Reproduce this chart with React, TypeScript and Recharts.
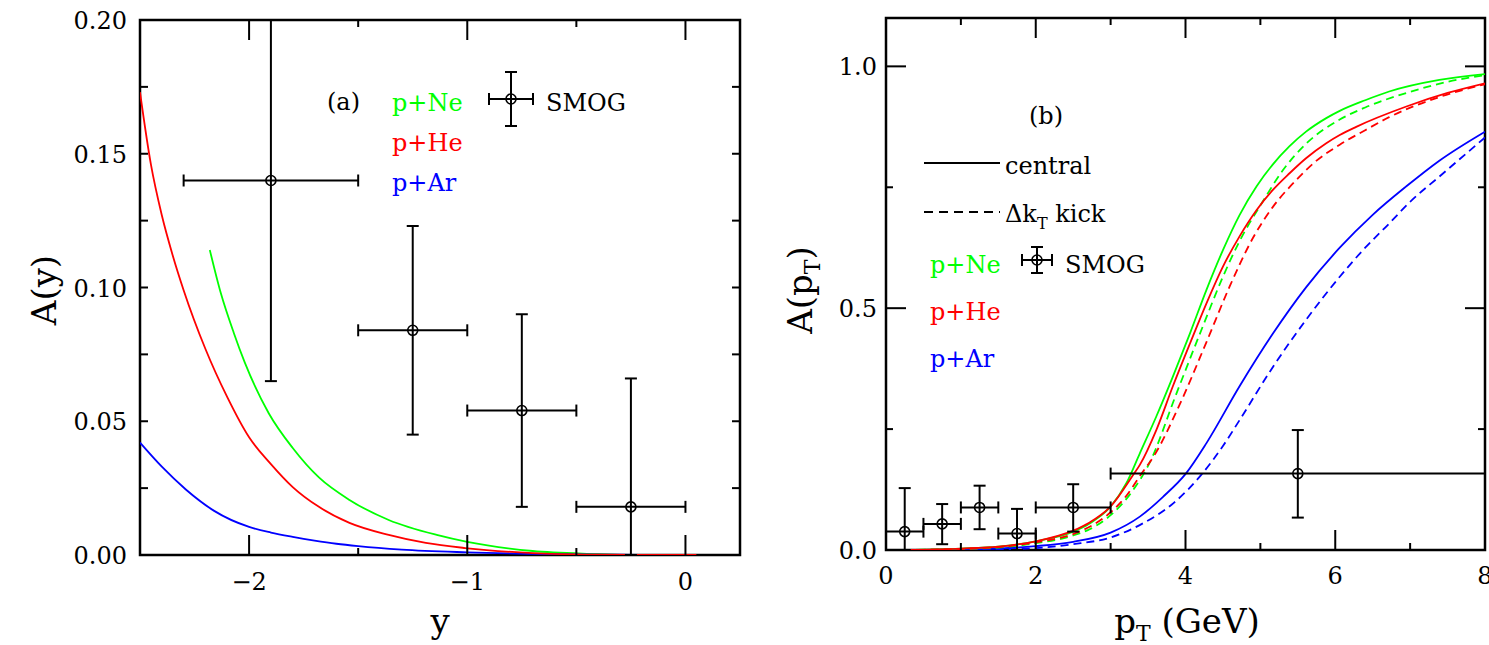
import React from 'react';
import { ComposedChart, Line, Scatter, ErrorBar, XAxis, YAxis, ReferenceArea } from 'recharts';

const FONT = '"DejaVu Serif", "Liberation Serif", serif';
const GREEN = '#00ff00';
const RED = '#ff0000';
const BLUE = '#0000ff';

// ---- panel (a): A(y) vs rapidity y ----
const heY = [-2.5, -2.45, -2.4, -2.35, -2.3, -2.2, -2.1, -2.0, -1.9, -1.8, -1.68, -1.54, -1.36, -1.19, -1.01, -0.7, -0.4, -0.25, 0.05];
const heA = [0.173, 0.146, 0.127, 0.112, 0.099, 0.077, 0.059, 0.044, 0.034, 0.0254, 0.018, 0.012, 0.0075, 0.0045, 0.0026, 0.0007, 0.0001, 0, 0];
const neY = [-2.18, -2.13, -2.07, -2.02, -1.91, -1.8, -1.68, -1.54, -1.36, -1.14, -1.0, -0.7, -0.4, -0.3];
const neA = [0.114, 0.098, 0.083, 0.072, 0.053, 0.04, 0.029, 0.0206, 0.0131, 0.0075, 0.0049, 0.0015, 0.0003, 0];
const arY = [-2.5, -2.4, -2.29, -2.16, -2.0, -1.9, -1.8, -1.7, -1.6, -1.5, -1.3, -1.0, -0.5, -0.2];
const arA = [0.042, 0.033, 0.0245, 0.0165, 0.0105, 0.0084, 0.0068, 0.0054, 0.0042, 0.0033, 0.002, 0.001, 0.0002, 0];

const smogY = [-1.9, -1.25, -0.75, -0.25];
const smogYLo = [-2.3, -1.5, -1.0, -0.5];
const smogYHi = [-1.5, -1.0, -0.5, 0.0];
const smogAy = [0.14, 0.084, 0.054, 0.018];
const smogAyLo = [0.065, 0.045, 0.018, 0.0];
const smogAyHi = [0.2, 0.123, 0.09, 0.066];

const xTicksA = [-2, -1.5, -1, -0.5, 0];
const xLabelsA = [-2, -1, 0];
const yTicksA = [0, 0.025, 0.05, 0.075, 0.1, 0.125, 0.15, 0.175, 0.2];
const yLabelsA = [0, 0.05, 0.1, 0.15, 0.2];

// ---- panel (b): A(pT) vs pT ----
const neCPt = [0.25, 1.0, 1.5, 2.0, 2.5, 2.72, 3.0, 3.21, 3.39, 3.61, 3.83, 4.06, 4.28, 4.5, 4.72, 4.95, 5.17, 5.39, 5.61, 5.88, 6.06, 6.4, 6.72, 7.39, 8.0];
const neCA = [0.0, 0.003, 0.007, 0.018, 0.038, 0.055, 0.09, 0.138, 0.2, 0.276, 0.358, 0.448, 0.538, 0.62, 0.692, 0.752, 0.798, 0.835, 0.865, 0.893, 0.908, 0.93, 0.948, 0.972, 0.984];
const neKPt = [0.25, 1.0, 1.5, 2.0, 2.5, 2.72, 3.0, 3.3, 3.52, 3.88, 4.23, 4.5, 4.72, 5.03, 5.3, 5.61, 6.06, 6.4, 6.95, 7.5, 8.0];
const neKA = [0.0, 0.002, 0.005, 0.014, 0.03, 0.043, 0.072, 0.124, 0.18, 0.324, 0.462, 0.565, 0.638, 0.72, 0.785, 0.84, 0.89, 0.915, 0.945, 0.968, 0.982];
const heCPt = [0.25, 1.0, 1.5, 2.0, 2.5, 2.72, 3.0, 3.3, 3.39, 3.61, 3.83, 4.06, 4.28, 4.5, 4.72, 4.95, 5.17, 5.39, 5.61, 5.88, 6.06, 6.28, 6.95, 7.5, 8.0];
const heCA = [0.0, 0.003, 0.007, 0.018, 0.04, 0.057, 0.09, 0.155, 0.176, 0.248, 0.338, 0.427, 0.51, 0.586, 0.648, 0.703, 0.745, 0.779, 0.81, 0.841, 0.858, 0.875, 0.917, 0.945, 0.965];
const heKPt = [0.25, 1.0, 1.5, 2.0, 2.5, 2.72, 3.0, 3.2, 3.4, 3.6, 3.92, 4.28, 4.59, 4.9, 5.17, 5.48, 5.75, 6.06, 6.4, 6.72, 7.4, 8.0];
const heKA = [0.0, 0.002, 0.006, 0.016, 0.033, 0.048, 0.078, 0.11, 0.155, 0.2, 0.3, 0.43, 0.545, 0.645, 0.71, 0.765, 0.805, 0.838, 0.868, 0.895, 0.937, 0.963];
const arCPt = [0.25, 1.0, 1.5, 2.0, 2.5, 3.0, 3.39, 3.7, 4.01, 4.28, 4.72, 5.17, 5.61, 6.06, 6.5, 6.95, 7.39, 8.0];
const arCA = [0.0, 0.001, 0.003, 0.008, 0.017, 0.036, 0.069, 0.11, 0.159, 0.221, 0.338, 0.448, 0.543, 0.625, 0.693, 0.752, 0.805, 0.865];
const arKPt = [0.25, 1.0, 1.5, 2.0, 2.5, 3.0, 3.43, 3.84, 4.23, 4.5, 4.72, 5.17, 5.61, 6.06, 6.4, 6.72, 7.0, 7.39, 8.0];
const arKA = [0.0, 0.0005, 0.0015, 0.004, 0.012, 0.026, 0.055, 0.097, 0.159, 0.215, 0.268, 0.379, 0.476, 0.565, 0.625, 0.675, 0.72, 0.772, 0.853];

const smogPt = [0.25, 0.75, 1.25, 1.75, 2.5, 5.5];
const smogPtLo = [0, 0.5, 1.0, 1.5, 2.0, 3.0];
const smogPtHi = [0.5, 1.0, 1.5, 2.0, 3.0, 8.0];
const smogApt = [0.038, 0.054, 0.088, 0.034, 0.088, 0.158];
const smogAptLo = [0.0, 0.012, 0.043, 0.0, 0.038, 0.067];
const smogAptHi = [0.128, 0.095, 0.133, 0.085, 0.136, 0.248];

const xTicksB = [0, 1, 2, 3, 4, 5, 6, 7, 8];
const xLabelsB = [0, 2, 4, 6, 8];
const yTicksB = [0, 0.25, 0.5, 0.75, 1.0];
const yLabelsB = [0, 0.5, 1.0];

const toRows = (xs: number[], ys: number[]) => xs.map((x, i) => ({ x, a: ys[i] }));
const toPoints = (xs: number[], xlo: number[], xhi: number[], ys: number[], ylo: number[], yhi: number[]) =>
  xs.map((x, i) => ({
    x,
    a: ys[i],
    ex: [x - xlo[i], xhi[i] - x],
    ey: [ys[i] - ylo[i], yhi[i] - ys[i]],
  }));

const isIn = (list: number[], v: number) => list.some((l) => Math.abs(l - v) < 1e-9);
const fmtMinus = (v: number) => (v < 0 ? '\u2212' + Math.abs(v) : String(v));

// ticks point inward and are mirrored on the opposite side of the frame
function xTick(labels: number[], fmt: (v: number) => string, major: number, minor: number, span: number, dy: number) {
  return (props: any) => {
    const { x, y, payload } = props;
    const lab = isIn(labels, payload.value);
    const len = lab ? major : minor;
    return (
      <g>
        <line x1={x} y1={y} x2={x} y2={y - len} stroke="#000" strokeWidth={2} />
        <line x1={x} y1={y - span} x2={x} y2={y - span + len} stroke="#000" strokeWidth={2} />
        {lab && (
          <text x={x} y={y + dy} textAnchor="middle" fontFamily={FONT} fontSize={24} fill="#000">
            {fmt(payload.value)}
          </text>
        )}
      </g>
    );
  };
}

function yTick(labels: number[], fmt: (v: number) => string, major: number, minor: number, span: number, gap: number) {
  return (props: any) => {
    const { x, y, payload } = props;
    const lab = isIn(labels, payload.value);
    const len = lab ? major : minor;
    return (
      <g>
        <line x1={x} y1={y} x2={x + len} y2={y} stroke="#000" strokeWidth={2} />
        <line x1={x + span} y1={y} x2={x + span - len} y2={y} stroke="#000" strokeWidth={2} />
        {lab && (
          <text x={x - gap} y={y + 9} textAnchor="end" fontFamily={FONT} fontSize={24} fill="#000">
            {fmt(payload.value)}
          </text>
        )}
      </g>
    );
  };
}

const ring = (props: any) => (
  <circle cx={props.cx} cy={props.cy} r={5} fill="none" stroke="#000" strokeWidth={1.6} />
);

function PanelA() {
  return (
    <ComposedChart width={760} height={645} margin={{ top: 20, right: 20, bottom: 89, left: 139 }}>
      <XAxis
        type="number"
        dataKey="x"
        domain={[-2.5, 0.25]}
        ticks={xTicksA}
        interval={0}
        allowDataOverflow
        height={1}
        axisLine={false}
        tickLine={false}
        tickSize={0}
        tickMargin={0}
        tick={xTick(xLabelsA, fmtMinus, 20, 7, 535, 35)}
      />
      <YAxis
        type="number"
        dataKey="a"
        domain={[0, 0.2]}
        ticks={yTicksA}
        interval={0}
        allowDataOverflow
        width={1}
        axisLine={false}
        tickLine={false}
        tickSize={0}
        tickMargin={0}
        tick={yTick(yLabelsA, (v) => v.toFixed(2), 8, 8, 600, 13)}
      />
      <ReferenceArea x1={-2.5} x2={0.25} y1={0} y2={0.2} fill="none" stroke="#000" strokeWidth={2.5} />
      <Line data={toRows(neY, neA)} dataKey="a" type="monotone" stroke={GREEN} strokeWidth={1.8} dot={false} isAnimationActive={false} />
      <Line data={toRows(arY, arA)} dataKey="a" type="monotone" stroke={BLUE} strokeWidth={1.8} dot={false} isAnimationActive={false} />
      <Line data={toRows(heY, heA)} dataKey="a" type="monotone" stroke={RED} strokeWidth={1.8} dot={false} isAnimationActive={false} />
      <Scatter
        data={toPoints(smogY, smogYLo, smogYHi, smogAy, smogAyLo, smogAyHi)}
        shape={ring}
        isAnimationActive={false}
      >
        <ErrorBar dataKey="ex" direction="x" width={6} stroke="#000" strokeWidth={2} isAnimationActive={false} />
        <ErrorBar dataKey="ey" direction="y" width={6} stroke="#000" strokeWidth={2} isAnimationActive={false} />
      </Scatter>
    </ComposedChart>
  );
}

function PanelB() {
  return (
    <ComposedChart width={709} height={645} margin={{ top: 18, right: 4, bottom: 94, left: 105 }}>
      <XAxis
        type="number"
        dataKey="x"
        domain={[0, 8]}
        ticks={xTicksB}
        interval={0}
        allowDataOverflow
        height={1}
        axisLine={false}
        tickLine={false}
        tickSize={0}
        tickMargin={0}
        tick={xTick(xLabelsB, (v) => String(v), 20, 7, 532, 34)}
      />
      <YAxis
        type="number"
        dataKey="a"
        domain={[0, 1.1]}
        ticks={yTicksB}
        interval={0}
        allowDataOverflow
        width={1}
        axisLine={false}
        tickLine={false}
        tickSize={0}
        tickMargin={0}
        tick={yTick(yLabelsB, (v) => v.toFixed(1), 20, 7, 599, 9)}
      />
      <ReferenceArea x1={0} x2={8} y1={0} y2={1.1} fill="none" stroke="#000" strokeWidth={2.5} />
      <Line data={toRows(arKPt, arKA)} dataKey="a" type="monotone" stroke={BLUE} strokeWidth={1.8} strokeDasharray="8 5" dot={false} isAnimationActive={false} />
      <Line data={toRows(arCPt, arCA)} dataKey="a" type="monotone" stroke={BLUE} strokeWidth={1.8} dot={false} isAnimationActive={false} />
      <Line data={toRows(neKPt, neKA)} dataKey="a" type="monotone" stroke={GREEN} strokeWidth={1.8} strokeDasharray="8 5" dot={false} isAnimationActive={false} />
      <Line data={toRows(neCPt, neCA)} dataKey="a" type="monotone" stroke={GREEN} strokeWidth={1.8} dot={false} isAnimationActive={false} />
      <Line data={toRows(heKPt, heKA)} dataKey="a" type="monotone" stroke={RED} strokeWidth={1.8} strokeDasharray="8 5" dot={false} isAnimationActive={false} />
      <Line data={toRows(heCPt, heCA)} dataKey="a" type="monotone" stroke={RED} strokeWidth={1.8} dot={false} isAnimationActive={false} />
      <Scatter
        data={toPoints(smogPt, smogPtLo, smogPtHi, smogApt, smogAptLo, smogAptHi)}
        shape={ring}
        isAnimationActive={false}
      >
        <ErrorBar dataKey="ex" direction="x" width={6} stroke="#000" strokeWidth={2} isAnimationActive={false} />
        <ErrorBar dataKey="ey" direction="y" width={6} stroke="#000" strokeWidth={2} isAnimationActive={false} />
      </Scatter>
    </ComposedChart>
  );
}

// the SMOG marker used in the in-plot legends
function SmogKey({ cx, cy, hw, hh }: { cx: number; cy: number; hw: number; hh: number }) {
  return (
    <g stroke="#000" strokeWidth={2} fill="none">
      <line x1={cx - hw} y1={cy} x2={cx + hw} y2={cy} />
      <line x1={cx} y1={cy - hh} x2={cx} y2={cy + hh} />
      <line x1={cx - hw} y1={cy - 6} x2={cx - hw} y2={cy + 6} />
      <line x1={cx + hw} y1={cy - 6} x2={cx + hw} y2={cy + 6} />
      <line x1={cx - 6} y1={cy - hh} x2={cx + 6} y2={cy - hh} />
      <line x1={cx - 6} y1={cy + hh} x2={cx + 6} y2={cy + hh} />
      <circle cx={cx} cy={cy} r={5} strokeWidth={1.6} />
    </g>
  );
}

export default function App() {
  const t = { fontFamily: FONT, fontSize: 24 };
  return (
    <div style={{ position: 'absolute', left: 0, top: 0, width: 1489, height: 645, background: '#fff', overflow: 'hidden' }}>
      <div style={{ position: 'absolute', left: 0, top: 0 }}>
        <PanelA />
      </div>
      <div style={{ position: 'absolute', left: 780, top: 0 }}>
        <PanelB />
      </div>
      <svg width={1489} height={645} style={{ position: 'absolute', left: 0, top: 0, pointerEvents: 'none' }}>
        {/* axis titles */}
        <text x={56} y={290} transform="rotate(-90 56 290)" textAnchor="middle" fontFamily={FONT} fontSize={34}>A(y)</text>
        <text x={440} y={633} textAnchor="middle" fontFamily={FONT} fontSize={34}>y</text>
        <text x={812} y={290} transform="rotate(-90 812 290)" textAnchor="middle" fontFamily={FONT} fontSize={34}>
          A(p<tspan fontSize={22} dy={8}>T</tspan><tspan dy={-8}>)</tspan>
        </text>
        <text x={1187} y={633} textAnchor="middle" fontFamily={FONT} fontSize={34}>
          p<tspan fontSize={22} dy={8}>T</tspan><tspan dy={-8}> (GeV)</tspan>
        </text>

        {/* panel (a) legend */}
        <text x={327} y={110} {...t}>(a)</text>
        <text x={392} y={111} {...t} fill={GREEN}>p+Ne</text>
        <text x={392} y={151} {...t} fill={RED}>p+He</text>
        <text x={392} y={191} {...t} fill={BLUE}>p+Ar</text>
        <SmogKey cx={511} cy={99} hw={22} hh={27} />
        <text x={546} y={111} {...t}>SMOG</text>

        {/* panel (b) legend */}
        <text x={1029} y={124} {...t}>(b)</text>
        <line x1={924} y1={163} x2={1000} y2={163} stroke="#000" strokeWidth={2} />
        <text x={1005} y={174} {...t}>central</text>
        <line x1={924} y1={212} x2={1000} y2={212} stroke="#000" strokeWidth={2} strokeDasharray="9 6" />
        <text x={1005} y={222} {...t}>
          Δk<tspan fontSize={16} dy={7}>T</tspan><tspan dy={-7}> kick</tspan>
        </text>
        <text x={930} y={273} {...t} fill={GREEN}>p+Ne</text>
        <SmogKey cx={1037} cy={260} hw={15} hh={13} />
        <text x={1065} y={273} {...t}>SMOG</text>
        <text x={930} y={320} {...t} fill={RED}>p+He</text>
        <text x={930} y={367} {...t} fill={BLUE}>p+Ar</text>
      </svg>
    </div>
  );
}
